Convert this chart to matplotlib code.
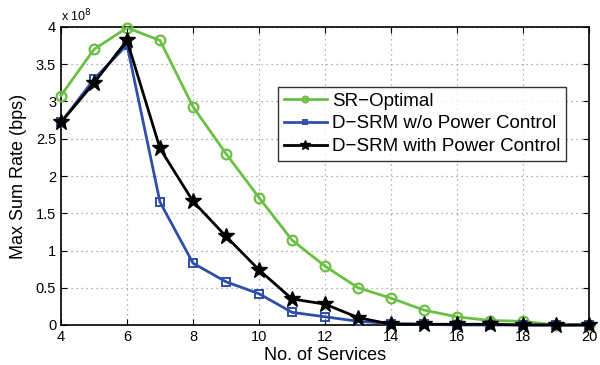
import matplotlib
matplotlib.use('Agg')
import matplotlib.pyplot as plt

plt.rcParams['font.family'] = ['Liberation Sans', 'DejaVu Sans']

# number of services on the x axis
services = list(range(4, 21))

# max sum rate values, in units of 1e8 bps
sr_optimal = [3.08, 3.70, 3.99, 3.82, 2.93, 2.30, 1.71, 1.14, 0.79, 0.50, 0.36, 0.20, 0.11, 0.06, 0.05, 0.0, 0.0]
dsrm_no_pc = [2.72, 3.30, 3.76, 1.65, 0.83, 0.58, 0.42, 0.17, 0.11, 0.05, 0.02, 0.01, 0.0, 0.0, 0.0, 0.0, 0.0]
dsrm_pc = [2.72, 3.25, 3.82, 2.37, 1.66, 1.19, 0.74, 0.35, 0.28, 0.10, 0.01, 0.01, 0.01, 0.01, 0.0, 0.0, 0.0]

green = '#6cbf45'
blue = '#2f4ea6'

fig = plt.figure(figsize=(6, 3.65), dpi=100)
ax = fig.add_axes([61/600, 1-325/365, (589-61)/600, (325-27)/365])

ax.plot(services, [v*1e8 for v in sr_optimal], color=green, lw=2, marker='o', ms=7,
        mfc='none', mec=green, mew=1.6, label='SR\u2212Optimal', clip_on=False, zorder=3)
ax.plot(services, [v*1e8 for v in dsrm_no_pc], color=blue, lw=2, marker='s', ms=6,
        mfc='none', mec=blue, mew=1.4, label='D\u2212SRM w/o Power Control', clip_on=False, zorder=3)
ax.plot(services, [v*1e8 for v in dsrm_pc], color='black', lw=2, marker='*', ms=12,
        mfc='black', mec='black', label='D\u2212SRM with Power Control', clip_on=False, zorder=4)

ax.set_xlim(4, 20)
ax.set_ylim(0, 4e8)
ax.set_xticks(range(4, 21, 2))
ax.set_yticks([i*0.5e8 for i in range(9)])
ax.set_yticklabels(['0', '0.5', '1', '1.5', '2', '2.5', '3', '3.5', '4'])
ax.text(0, 1.01, r'x 10$^8$', transform=ax.transAxes, fontsize=9, va='bottom')

ax.grid(True, ls=(0, (1, 3)), color='#999999', lw=0.9)
ax.tick_params(direction='in', top=True, right=True, labelsize=10.5, length=4)
for s in ax.spines.values():
    s.set_linewidth(1.2)

ax.set_xlabel('No. of Services', fontsize=13, labelpad=2)
ax.set_ylabel('Max Sum Rate (bps)', fontsize=13, labelpad=6)

leg = ax.legend(loc='upper left', bbox_to_anchor=((278-61)/528, 1-(87-27)/298),
                fontsize=13.5, frameon=True, fancybox=False, edgecolor='black',
                borderpad=0.3, labelspacing=0.3, handlelength=2.3, handletextpad=0.3,
                borderaxespad=0, markerscale=0.6)
leg.get_frame().set_linewidth(1.0)
leg.set_zorder(5)

fig.savefig('out.png', dpi=100)
